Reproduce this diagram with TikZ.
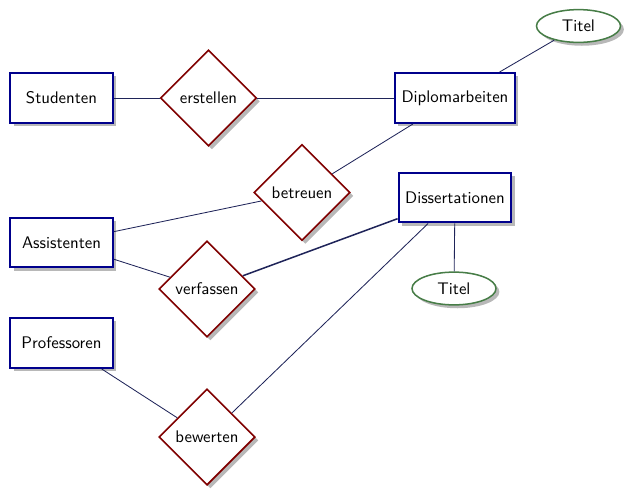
\documentclass[tikz,border=0pt]{standalone}
\usetikzlibrary{shapes.geometric,shadows}
\definecolor{entcol}{rgb}{0.0,0.0,0.55}
\definecolor{relcol}{rgb}{0.5,0.0,0.0}
\definecolor{attcol}{rgb}{0.28,0.49,0.28}
\definecolor{linkcol}{rgb}{0.12,0.14,0.35}
\begin{document}
\begin{tikzpicture}[x=0.595pt,y=-0.595pt,
  font=\sffamily,
  shade/.style={drop shadow={shadow xshift=2pt,shadow yshift=-2pt,fill=black!28,opacity=1}},
  entity/.style={rectangle,draw=entcol,line width=1.2pt,fill=white,shade,
    minimum width=61pt,minimum height=29.7pt,inner xsep=3.9pt},
  relation/.style={diamond,aspect=1,draw=relcol,line width=1pt,fill=white,shade,
    inner sep=0pt,minimum size=57.3pt},
  attribute/.style={ellipse,draw=attcol,line width=0.9pt,fill=white,shade,
    inner sep=0pt,minimum width=50pt,minimum height=19.5pt},
  link/.style={draw=linkcol,line width=0.5pt}]
\useasboundingbox (0,0) rectangle (625,488);

% entities
\node[entity] (stud) at (61.5,98) {Studenten};
\node[entity] (dipl) at (455,98) {Diplomarbeiten};
\node[entity] (diss) at (455,197.5) {Dissertationen};
\node[entity] (assi) at (61.5,242.5) {Assistenten};
\node[entity] (prof) at (61.5,343) {Professoren};

% relationships
\node[relation] (erst) at (208.5,98) {erstellen};
\node[relation] (betr) at (302,192.5) {betreuen};
\node[relation] (verf) at (207,289) {verfassen};
\node[relation] (bewe) at (207,437) {bewerten};

% attributes
\node[attribute] (tit1) at (578.5,26) {Titel};
\node[attribute] (tit2) at (454,288.5) {Titel};

% connections
\path[link] (stud) -- (erst);
\path[link] (erst) -- (dipl);
\path[link] (dipl) -- (tit1);
\path[link] (dipl) -- (betr);
\path[link] (betr) -- (assi);
\path[link] (assi) -- (verf);
\path[link,line width=0.9pt] (verf) -- (diss);
\path[link] (diss) -- (tit2);
\path[link] (diss) -- (bewe);
\path[link] (prof) -- (bewe);
\end{tikzpicture}
\end{document}
